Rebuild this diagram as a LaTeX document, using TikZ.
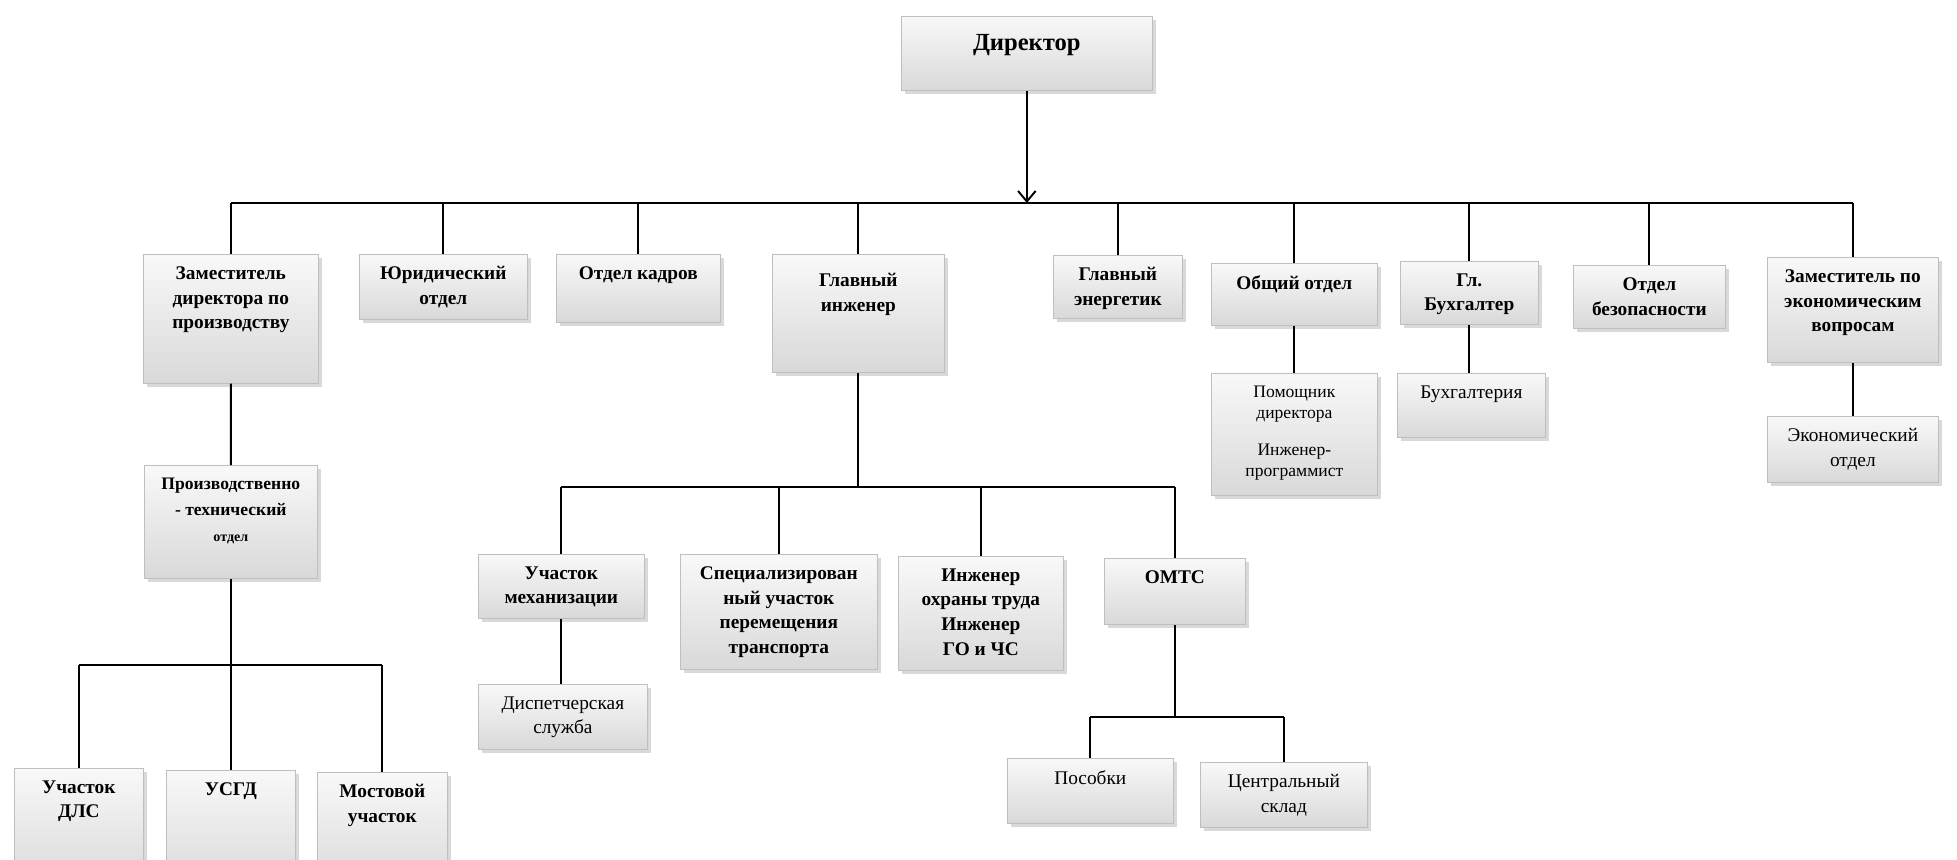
\documentclass[tikz,border=0pt]{standalone}
\usepackage{fontspec}
\setmainfont{Liberation Serif}
\usetikzlibrary{arrows.meta,shadows}
\tikzset{
	unit/.style 2 args={draw=gray!50, top color=gray!5, bottom color=gray!30,
		drop shadow={opacity=0.3,shadow xshift=2pt,shadow yshift=-2pt},
		anchor=north west, inner sep=0pt,
		font=\bfseries\fontsize{11}{14}\selectfont,
		execute at begin node={\begin{minipage}[c][#2][t]{#1}\centering\vspace*{7pt}},
		execute at end node={\end{minipage}}},
	light/.style={font=\fontsize{11}{14}\selectfont},
	link/.style={line width=1.1pt},
	head/.style={-{Straight Barb[length=6pt,width=10pt]}}
}

\begin{document}
\begin{tikzpicture}[x=0.02cm,y=-0.02cm]
	\useasboundingbox (0,0) rectangle (1957,859);
	\clip (0,0) rectangle (1957,859);
	
	% top
	\node[unit={5.02cm}{1.48cm}, font=\bfseries\fontsize{14}{16}\selectfont] (dir) at (901,16) {\vspace*{3pt}Директор};
	
	% first row
	\node[unit={3.5cm}{2.58cm}] (zampr) at (143,254) {Заместитель\\директора по\\производству};
	\node[unit={3.36cm}{1.3cm}] (yur) at (359,254) {Юридический\\отдел};
	\node[unit={3.28cm}{1.36cm}] (kadr) at (556,254) {Отдел кадров};
	\node[unit={3.44cm}{2.36cm}] (glinzh) at (772,254) {\vspace*{4pt}Главный\\инженер};
	\node[unit={2.58cm}{1.26cm}] (energ) at (1053,255) {Главный\\энергетик};
	\node[unit={3.32cm}{1.24cm}] (obsh) at (1211,263) {Общий отдел};
	\node[unit={2.76cm}{1.26cm}] (buh) at (1400,261) {Гл.\\Бухгалтер};
	\node[unit={3.04cm}{1.26cm}] (bez) at (1573,265) {Отдел\\безопасности};
	\node[unit={3.42cm}{2.1cm}] (zamek) at (1767,257) {Заместитель по\\экономическим\\вопросам};
	
	% second row
	\node[unit={3.46cm}{2.26cm}, font=\bfseries\fontsize{10}{15}\selectfont] (prt) at (144,465) {Производственно\\- технический\\{\footnotesize отдел}};
	\node[unit={3.32cm}{2.44cm}, light, font=\fontsize{10}{12}\selectfont] (pom) at (1211,373) {Помощник\\директора\\[9pt]Инженер-\\программист};
	\node[unit={2.96cm}{1.28cm}, light] (buhg) at (1397,373) {Бухгалтерия};
	\node[unit={3.42cm}{1.32cm}, light] (ekon) at (1767,416) {Экономический\\отдел};
	
	\node[unit={3.32cm}{1.28cm}] (meh) at (478,554) {Участок\\механизации};
	\node[unit={3.94cm}{2.3cm}] (spec) at (680,554) {Специализирован\\ный участок\\перемещения\\транспорта};
	\node[unit={3.3cm}{2.28cm}] (ohr) at (898,556) {Инженер\\охраны труда\\Инженер\\ГО и ЧС};
	\node[unit={2.82cm}{1.32cm}] (omts) at (1104,558) {ОМТС};
	
	\node[unit={3.38cm}{1.3cm}, light] (disp) at (478,684) {Диспетчерская\\служба};
	\node[unit={3.32cm}{1.3cm}, light] (posob) at (1007,758) {Пособки};
	\node[unit={3.34cm}{1.3cm}, light] (sklad) at (1200,762) {Центральный\\склад};
	
	\node[unit={2.58cm}{2.4cm}] (dls) at (14,768) {Участок\\ДЛС};
	\node[unit={2.58cm}{2.4cm}] (usgd) at (166,770) {УСГД};
	\node[unit={2.6cm}{2.4cm}] (most) at (317,772) {Мостовой\\участок};
	
	% buses
	\coordinate (bus) at (0,203);
	\coordinate (ibus) at (0,487);
	\coordinate (pbus) at (0,665);
	\coordinate (obus) at (0,717);
	
	\draw[link,head] (dir.south) -- (dir.south |- bus);
	\draw[link] (zampr.north |- bus) -- (zamek.north |- bus);
	\foreach \n in {zampr,yur,kadr,glinzh,energ,obsh,buh,bez,zamek}
		\draw[link] (\n.north |- bus) -- (\n.north);
	
	\draw[link] (zampr.south) -- (prt.north);
	\draw[link] (prt.south) -- (prt.south |- pbus);
	\draw[link] (dls.north |- pbus) -- (most.north |- pbus);
	\foreach \n in {dls,usgd,most}
		\draw[link] (\n.north |- pbus) -- (\n.north);
	
	\draw[link] (glinzh.south) -- (glinzh.south |- ibus);
	\draw[link] (meh.north |- ibus) -- (omts.north |- ibus);
	\foreach \n in {meh,spec,ohr,omts}
		\draw[link] (\n.north |- ibus) -- (\n.north);
	\draw[link] (meh.south) -- (meh.south |- disp.north);
	
	\draw[link] (omts.south) -- (omts.south |- obus);
	\draw[link] (posob.north |- obus) -- (sklad.north |- obus);
	\foreach \n in {posob,sklad}
		\draw[link] (\n.north |- obus) -- (\n.north);
	
	\draw[link] (obsh.south) -- (obsh.south |- pom.north);
	\draw[link] (buh.south) -- (buh.south |- buhg.north);
	\draw[link] (zamek.south) -- (zamek.south |- ekon.north);
\end{tikzpicture}
\end{document}
